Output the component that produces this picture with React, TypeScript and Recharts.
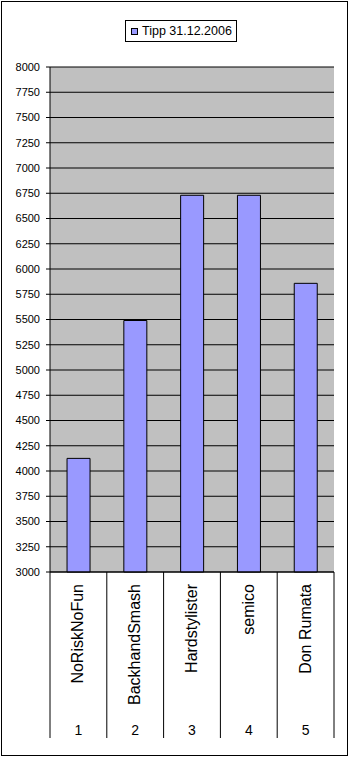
import { Bar, BarChart, CartesianGrid, Legend, XAxis, YAxis } from "recharts";

const names = ["NoRiskNoFun", "BackhandSmash", "Hardstylister", "semico", "Don Rumata"];
const ranks = [1, 2, 3, 4, 5];
const tipp = [4125, 5490, 6730, 6730, 5858];
const yTicks = [3000, 3250, 3500, 3750, 4000, 4250, 4500, 4750, 5000, 5250, 5500, 5750, 6000, 6250, 6500, 6750, 7000, 7250, 7500, 7750, 8000];
const seriesName = "Tipp 31.12.2006";

const FONT = '"Liberation Sans", Arial, sans-serif';
const C = {
  bar: "#9999FF",
  plot: "#C0C0C0",
  frame: "#808080",
  ink: "#000000",
};

const rows = names.map((name, i) => ({ name, rank: ranks[i], tipp: tipp[i] }));

const W = 350;
const H = 757;
const AXIS_H = 166;

function CategoryTick(props: any) {
  const { x, y, payload, index } = props;
  const half = payload?.offset || 28.4;
  const last = index === rows.length - 1;
  return (
    <g>
      <line x1={x - half} y1={y} x2={x - half} y2={y + AXIS_H} stroke={C.ink} />
      {last && <line x1={x + half} y1={y} x2={x + half} y2={y + AXIS_H} stroke={C.ink} />}
      <text
        x={x + 5}
        y={y + 12}
        transform={`rotate(-90 ${x + 5} ${y + 12})`}
        textAnchor="end"
        fontSize={16}
        fontFamily={FONT}
        fill={C.ink}
      >
        {payload.value}
      </text>
      <text x={x} y={y + 163} textAnchor="middle" fontSize={14} fontFamily={FONT} fill={C.ink}>
        {rows[index]?.rank}
      </text>
    </g>
  );
}

function LegendBox(props: any) {
  const label = props.payload?.[0]?.value ?? seriesName;
  return (
    <div
      style={{
        width: 112,
        height: 22,
        boxSizing: "border-box",
        border: "1px solid #000",
        background: "#fff",
        display: "flex",
        alignItems: "center",
        paddingLeft: 5,
        fontFamily: FONT,
        fontSize: 12.5,
        color: "#000",
        whiteSpace: "nowrap",
      }}
    >
      <span
        style={{
          width: 7,
          height: 7,
          boxSizing: "border-box",
          border: "1px solid #000",
          background: C.bar,
          marginRight: 4,
          display: "inline-block",
        }}
      />
      <span>{label}</span>
    </div>
  );
}

export default function App() {
  return (
    <div style={{ position: "relative", width: W, height: H, background: "#fff" }}>
      <style>{"body{margin:0}"}</style>
      <BarChart
        width={W}
        height={H}
        data={rows}
        margin={{ top: 67, right: 16, bottom: 19, left: 0 }}
        barCategoryGap="30%"
      >
        <CartesianGrid vertical={false} stroke={C.ink} fill={C.plot} fillOpacity={1} />
        <XAxis
          dataKey="name"
          height={AXIS_H}
          interval={0}
          tickLine={false}
          tickSize={0}
          tickMargin={0}
          axisLine={{ stroke: C.ink }}
          tick={<CategoryTick />}
        />
        <XAxis
          xAxisId="top"
          dataKey="name"
          orientation="top"
          height={0}
          tick={false}
          tickLine={false}
          axisLine={{ stroke: C.frame }}
        />
        <YAxis
          width={50}
          domain={[3000, 8000]}
          ticks={yTicks}
          interval={0}
          tickSize={4}
          tickMargin={6}
          tickLine={{ stroke: C.ink }}
          axisLine={{ stroke: C.ink }}
          tick={{ fontSize: 11, fontFamily: FONT, fill: C.ink }}
        />
        <YAxis
          yAxisId="right"
          orientation="right"
          width={0}
          tick={false}
          tickLine={false}
          axisLine={{ stroke: C.frame }}
        />
        <Legend
          layout="vertical"
          align="center"
          verticalAlign="middle"
          content={<LegendBox />}
          wrapperStyle={{ position: "absolute", top: 20, left: 125, width: 112, height: 22 }}
        />
        <Bar
          dataKey="tipp"
          name={seriesName}
          fill={C.bar}
          stroke={C.ink}
          strokeWidth={1}
          isAnimationActive={false}
        />
      </BarChart>
      <div
        style={{
          position: "absolute",
          left: 1,
          top: 1,
          width: 347,
          height: 755,
          boxSizing: "border-box",
          border: "1px solid #000",
          pointerEvents: "none",
        }}
      />
    </div>
  );
}
